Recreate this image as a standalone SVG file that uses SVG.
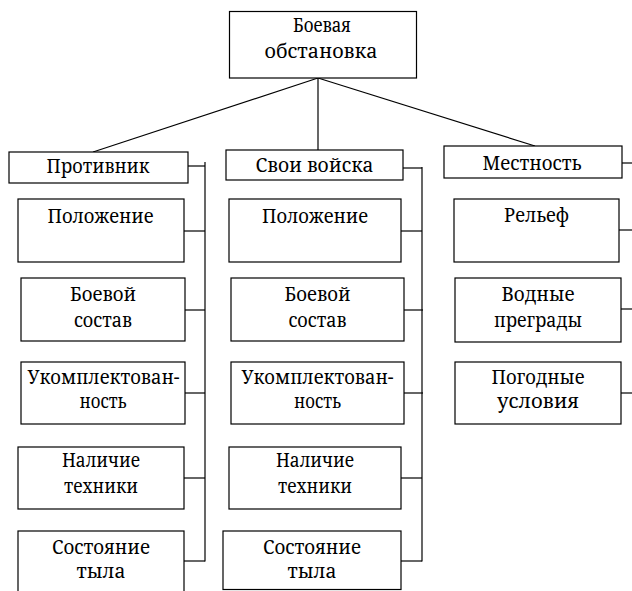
<svg xmlns="http://www.w3.org/2000/svg" width="632" height="591" viewBox="0 0 632 591">
<style>
rect{fill:#fff;stroke:#000;stroke-width:1.2}
line{stroke:#000;stroke-width:1.2}
text{font-family:"Noto Serif","Liberation Serif","DejaVu Serif",serif;font-size:19px;fill:#000;text-anchor:middle}
</style>
<rect x="0" y="0" width="632" height="591" style="stroke:none"/>
<g id="connectors">
<line x1="318" y1="78" x2="93" y2="152"/>
<line x1="318" y1="78" x2="318" y2="150"/>
<line x1="318" y1="78" x2="535" y2="146"/>
<line x1="205" y1="162" x2="205" y2="561.5"/>
<line x1="188" y1="166" x2="205" y2="166"/>
<line x1="184" y1="231" x2="205" y2="231"/>
<line x1="185" y1="310" x2="205" y2="310"/>
<line x1="185" y1="393" x2="205" y2="393"/>
<line x1="184" y1="478" x2="205" y2="478"/>
<line x1="184" y1="561" x2="205" y2="561"/>
<line x1="422" y1="167" x2="422" y2="561.5"/>
<line x1="403" y1="168" x2="422" y2="168"/>
<line x1="401" y1="231" x2="422" y2="231"/>
<line x1="404" y1="310" x2="423" y2="310"/>
<line x1="404" y1="393" x2="423" y2="393"/>
<line x1="401" y1="478" x2="422" y2="478"/>
<line x1="401" y1="561" x2="422" y2="561"/>
<line x1="622" y1="163" x2="632" y2="163"/>
<line x1="619" y1="230" x2="632" y2="230"/>
<line x1="621" y1="309" x2="632" y2="309"/>
<line x1="621" y1="393" x2="632" y2="393"/>
</g>
<g id="root"><rect x="229.5" y="11.5" width="187" height="66.5"/><text x="322" y="32" textLength="58" lengthAdjust="spacingAndGlyphs">Боевая</text><text x="321" y="58" textLength="113" lengthAdjust="spacingAndGlyphs">обстановка</text></g>
<g id="enemy"><rect x="9" y="152" width="179" height="31"/><text x="98" y="173" textLength="103" lengthAdjust="spacingAndGlyphs">Противник</text></g>
<g id="own"><rect x="226" y="150" width="177" height="30"/><text x="314.5" y="172" textLength="118" lengthAdjust="spacingAndGlyphs">Свои войска</text></g>
<g id="terrain"><rect x="444" y="146" width="178" height="32"/><text x="532" y="170" textLength="99" lengthAdjust="spacingAndGlyphs">Местность</text></g>

<g id="e1"><rect x="18" y="199" width="166" height="63"/><text x="100.5" y="223" textLength="106" lengthAdjust="spacingAndGlyphs">Положение</text></g>
<g id="e2"><rect x="21" y="278" width="164" height="63"/><text x="103" y="301" textLength="66" lengthAdjust="spacingAndGlyphs">Боевой</text><text x="103" y="327" textLength="58" lengthAdjust="spacingAndGlyphs">состав</text></g>
<g id="e3"><rect x="21" y="362" width="164" height="62"/><text x="103.5" y="384" textLength="152" lengthAdjust="spacingAndGlyphs">Укомплектован-</text><text x="103" y="408" textLength="47" lengthAdjust="spacingAndGlyphs">ность</text></g>
<g id="e4"><rect x="18" y="447" width="166" height="62"/><text x="101" y="467" textLength="78" lengthAdjust="spacingAndGlyphs">Наличие</text><text x="101" y="493" textLength="74" lengthAdjust="spacingAndGlyphs">техники</text></g>
<g id="e5"><rect x="18" y="531" width="166" height="66"/><text x="101" y="554" textLength="98" lengthAdjust="spacingAndGlyphs">Состояние</text><text x="101" y="578" textLength="49" lengthAdjust="spacingAndGlyphs">тыла</text></g>

<g id="o1"><rect x="229" y="199" width="172" height="63"/><text x="315" y="223" textLength="106" lengthAdjust="spacingAndGlyphs">Положение</text></g>
<g id="o2"><rect x="231" y="278" width="173" height="63"/><text x="317.5" y="301" textLength="66" lengthAdjust="spacingAndGlyphs">Боевой</text><text x="317.5" y="327" textLength="58" lengthAdjust="spacingAndGlyphs">состав</text></g>
<g id="o3"><rect x="231" y="362" width="173" height="62"/><text x="317.5" y="384" textLength="152" lengthAdjust="spacingAndGlyphs">Укомплектован-</text><text x="317.5" y="408" textLength="47" lengthAdjust="spacingAndGlyphs">ность</text></g>
<g id="o4"><rect x="229" y="447" width="172" height="62"/><text x="315" y="467" textLength="78" lengthAdjust="spacingAndGlyphs">Наличие</text><text x="315" y="493" textLength="74" lengthAdjust="spacingAndGlyphs">техники</text></g>
<g id="o5"><rect x="223" y="531" width="178" height="58.5"/><text x="312" y="554" textLength="98" lengthAdjust="spacingAndGlyphs">Состояние</text><text x="312" y="578" textLength="49" lengthAdjust="spacingAndGlyphs">тыла</text></g>

<g id="t1"><rect x="454" y="199" width="165" height="63"/><text x="536.5" y="222" textLength="65" lengthAdjust="spacingAndGlyphs">Рельеф</text></g>
<g id="t2"><rect x="455" y="278" width="166" height="64"/><text x="538" y="301" textLength="73" lengthAdjust="spacingAndGlyphs">Водные</text><text x="538" y="327" textLength="88" lengthAdjust="spacingAndGlyphs">преграды</text></g>
<g id="t3"><rect x="455" y="362" width="166" height="62"/><text x="538" y="384" textLength="93" lengthAdjust="spacingAndGlyphs">Погодные</text><text x="538" y="408" textLength="82" lengthAdjust="spacingAndGlyphs">условия</text></g>
</svg>
